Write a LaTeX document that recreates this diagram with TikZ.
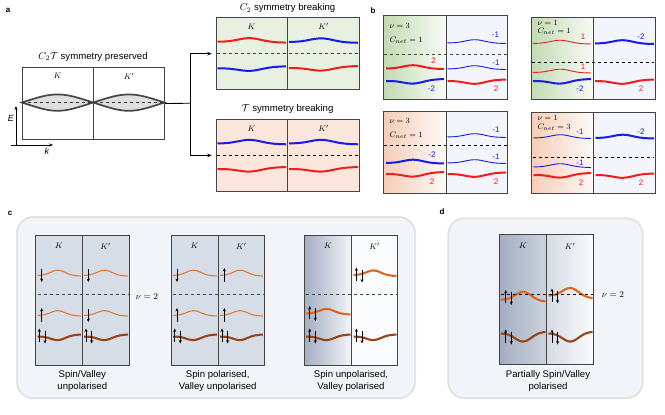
\documentclass[tikz,border=0pt]{standalone}
\usepackage{fontspec}
\setmainfont{Liberation Sans}
\usetikzlibrary{arrows.meta}
\definecolor{boxline}{HTML}{444444}
\definecolor{greenbg}{HTML}{E8F1E1}
\definecolor{pinkbg}{HTML}{FBE6DB}
\definecolor{gshade}{HTML}{C3DAB2}
\definecolor{pshade}{HTML}{F5CDB7}
\definecolor{lav}{HTML}{F3F5FC}
\definecolor{myred}{RGB}{240,28,30}
\definecolor{myblue}{RGB}{22,28,235}
\definecolor{cbg}{HTML}{F1F5FA}
\definecolor{cpan}{HTML}{D7DDE7}
\definecolor{darkpan}{HTML}{A3AEC1}
\definecolor{orthin}{RGB}{228,120,50}
\definecolor{orthick}{RGB}{218,102,32}
\definecolor{brownb}{RGB}{150,68,24}
\def\bc{0.47}\def\bw{0.24}
\newcommand\band[6]{\draw[#1] plot[domain=0:1,samples=41,smooth,variable=\x] ({#2+(#3-#2)*\x},{#4-(#5)*exp(-((\x-\bc)/\bw)*((\x-\bc)/\bw))+(#6)*\x});}
\newcommand\spinU[2]{\draw[spin] (#1,#2+6.5) -- (#1,#2-7);}
\newcommand\spinD[2]{\draw[spin] (#1,#2-6.5) -- (#1,#2+7);}
\newcommand\spinP[2]{\draw[spin] (#1-2.8,#2+5.5) -- (#1-2.8,#2-7.5); \draw[spin] (#1+2.8,#2-5.5) -- (#1+2.8,#2+7.5);}
\tikzset{
  spin/.style={-{Stealth[length=3.4pt,width=3pt]}, line width=0.75pt, black},
  panlab/.style={font=\bfseries\fontsize{8}{9}\selectfont},
  ttl/.style={font=\fontsize{9.6}{11}\selectfont},
  klab/.style={font=\fontsize{8}{9}\selectfont},
  small/.style={font=\fontsize{8}{9}\selectfont},
  captext/.style={font=\fontsize{9.6}{12}\selectfont, align=center},
  frame/.style={draw=boxline, line width=0.8pt},
  divl/.style={draw=boxline, line width=0.7pt},
  dsh/.style={dashed, line width=0.7pt, draw=boxline},
  thkR/.style={myred, line width=2pt},
  thkB/.style={myblue, line width=2pt},
  thnR/.style={myred, line width=0.9pt},
  thnB/.style={myblue, line width=0.9pt},
  thinO/.style={orthin, line width=1.1pt},
  thickO/.style={orthick, line width=2.1pt},
  thickB/.style={brownb, line width=2.1pt},
  conn/.style={line width=0.9pt, black},
}
\begin{document}
\begin{tikzpicture}[x=1pt,y=-1pt]
\useasboundingbox (0,0) rectangle (665,415);
% ================= a =================
\node[panlab] at (8,10) {a};
\node[frame, fill=white, minimum width=142.6pt, minimum height=71.7pt, inner sep=0pt, anchor=north west] (boxA) at (21.7,67.3) {};
\node[ttl] at (93,57) {$C_2\mathcal{T}$ symmetry preserved};
\draw[divl] (93.3,67.3) -- (93.3,139);
\node[klab] at (57.5,76) {$K$};
\node[klab] at (129,76) {$K'$};
\foreach \o in {0,71.3}{
  \filldraw[fill=gray!25, draw=gray!55!black, line width=1.7pt]
   (22+\o,102.5) .. controls (40+\o,96.5) and (48+\o,94.5) .. (57.5+\o,94.5)
   .. controls (67+\o,94.5) and (75+\o,96.5) .. (93+\o,102.5)
   .. controls (75+\o,108.5) and (67+\o,110.8) .. (57.5+\o,110.8)
   .. controls (48+\o,110.8) and (40+\o,108.5) .. cycle;
}
\draw[dashed, gray!40!black, line width=0.8pt] (22,102.6) -- (164,102.6);
\draw[-{Stealth[length=4pt,width=3pt]}, line width=0.7pt] (16,145) -- (16,106);
\draw[-{Stealth[length=4pt,width=3pt]}, line width=0.7pt] (10.7,145) -- (53,145);
\node[small, font=\itshape\fontsize{9}{10}\selectfont] at (11,118) {E};
\node[small, font=\itshape\fontsize{9}{10}\selectfont] at (47,151) {k};
% box B (C2 breaking)
\node[frame, fill=greenbg, minimum width=143.6pt, minimum height=72pt, inner sep=0pt, anchor=north west] (boxB) at (215.7,17.3) {};
\node[ttl] at (287.5,8.3) {$C_2$ symmetry breaking};
\draw[divl] (287.3,17.3) -- (287.3,89.3);
\node[klab] at (251.5,26.5) {$K$};
\node[klab] at (323.5,26.5) {$K'$};
\band{thkR}{217.5}{286}{41.8}{4}{0.8}
\band{thkB}{217.5}{286}{68.3}{-3.5}{-2}
\band{thkB}{289}{358}{42}{4}{0.8}
\band{thkR}{289}{358}{68}{-3.5}{-2}
\draw[dsh] (216.5,53.3) -- (358.5,53.3);
% box C (T breaking)
\node[frame, fill=pinkbg, minimum width=143.6pt, minimum height=71.4pt, inner sep=0pt, anchor=north west] (boxC) at (215.7,119.3) {};
\node[ttl] at (287.5,109.3) {$\mathcal{T}$ symmetry breaking};
\draw[divl] (287.3,119.3) -- (287.3,190.7);
\node[klab] at (251.5,128.5) {$K$};
\node[klab] at (323.5,128.5) {$K'$};
\band{thkB}{217.5}{286}{143.5}{4}{0.8}
\band{thkB}{289}{358}{143.5}{4}{0.8}
\band{thkR}{217.5}{286}{169}{-3.5}{-2}
\band{thkR}{289}{358}{169}{-3.5}{-2}
\draw[dashed, line width=0.7pt, black] (216.5,155) -- (358.5,155);
% connectors
\coordinate (br) at (190,103.2);
\draw[conn] (boxA.east) -- (br);
\draw[conn, -{Stealth[length=4.5pt,width=3.5pt]}, shorten >=4pt] (br) |- (boxB.west);
\draw[conn, -{Stealth[length=4.5pt,width=3.5pt]}, shorten >=4pt] (br) |- (boxC.west);
% ================= b =================
\node[panlab] at (373,11) {b};
% top-left
\shade[left color=gshade, right color=gshade!12] (383.3,15) rectangle (446.3,99);
\fill[lav] (446.3,15) rectangle (507.3,99);
\band{thkR}{386}{444}{68.5}{3.5}{0.5}
\band{thkB}{386}{444}{81}{-3.5}{-2}
\band{thnB}{447.5}{506}{43}{3.5}{0.5}
\band{thnB}{447.5}{506}{69}{3.5}{0.5}
\band{thkR}{447.5}{506}{81}{-3.5}{-1.5}
\draw[dsh] (384,54) -- (506.5,54);
\draw[divl] (446.3,15) -- (446.3,99);
\draw[frame] (383.3,15) rectangle (507.3,99);
\node[small, anchor=west] at (386,26) {$\nu = 3$};
\node[small, anchor=west] at (386,40) {$C_{net} = 1$};
\node[small, myred] at (433.5,61) {2};
\node[small, myblue] at (431.5,89) {-2};
\node[small, myblue] at (495.5,35) {-1};
\node[small, myblue] at (496,63) {-1};
\node[small, myred] at (496,89) {2};
% top-right
\shade[left color=gshade, right color=gshade!12] (531,17.3) rectangle (593.3,99);
\fill[lav] (593.3,17.3) rectangle (655,99);
\band{thnR}{533}{591}{43.5}{3.5}{0.5}
\band{thnR}{533}{591}{72.5}{3.5}{0.5}
\band{thkB}{533}{591}{81}{-3.5}{-2}
\band{thkB}{595}{654}{43.5}{3.5}{0.5}
\band{thkR}{595}{654}{81}{-3.5}{-1.5}
\draw[dashed, line width=0.7pt, black] (532,62.3) -- (654,62.3);
\draw[divl] (593.3,17.3) -- (593.3,99);
\draw[frame] (531,17.3) rectangle (655,99);
\node[small, anchor=west] at (534,23) {$\nu = 1$};
\node[small, anchor=west] at (534,31.5) {$C_{net} = 1$};
\node[small, myred] at (583,37) {1};
\node[small, myred] at (583,67) {1};
\node[small, myblue] at (580,89) {-2};
\node[small, myblue] at (641,37) {-2};
\node[small, myred] at (641,89) {2};
% bottom-left
\shade[left color=pshade, right color=pshade!10] (383.3,111.5) rectangle (446.5,193.3);
\fill[lav] (446.5,111.5) rectangle (507.3,193.3);
\band{thkB}{386}{444}{163}{3.5}{0.5}
\band{thkR}{386}{444}{174}{-3.5}{-2}
\band{thnB}{447.5}{506}{137}{3.5}{0.5}
\band{thnB}{447.5}{506}{163}{3.5}{0.5}
\band{thkR}{447.5}{506}{174}{-3.5}{-1.5}
\draw[dashed, line width=0.7pt, black] (384,145.3) -- (506.5,145.3);
\draw[divl] (446.5,111.5) -- (446.5,193.3);
\draw[frame] (383.3,111.5) rectangle (507.3,193.3);
\node[small, anchor=west] at (386,121) {$\nu = 3$};
\node[small, anchor=west] at (386,135) {$C_{net} = 1$};
\node[small, myblue] at (432,155) {-2};
\node[small, myred] at (432,182) {2};
\node[small, myblue] at (496,130) {-1};
\node[small, myblue] at (496,157) {-1};
\node[small, myred] at (496,182) {2};
% bottom-right
\shade[left color=pshade, right color=pshade!10] (531.5,112.3) rectangle (593.7,193.3);
\fill[lav] (593.7,112.3) rectangle (655,193.3);
\band{thnB}{533.5}{591}{138}{3.5}{0.5}
\band{thnB}{533.5}{591}{167}{3.5}{0.5}
\band{thkR}{533.5}{591}{175}{-3.5}{-2}
\band{thkB}{595.5}{654}{138}{3.5}{0.5}
\band{thkR}{595.5}{654}{175}{-3.5}{-1.5}
\draw[dashed, line width=0.7pt, black] (532.5,157.3) -- (654,157.3);
\draw[divl] (593.7,112.3) -- (593.7,193.3);
\draw[frame] (531.5,112.3) rectangle (655,193.3);
\node[small, anchor=west] at (534,118) {$\nu = 1$};
\node[small, anchor=west] at (534,127) {$C_{net} = 3$};
\node[small, myblue] at (580,132) {-1};
\node[small, myblue] at (580,163) {-1};
\node[small, myred] at (581,183) {2};
\node[small, myblue] at (641,132) {-2};
\node[small, myred] at (641,183) {2};
% ================= c =================
\node[panlab] at (10,213) {c};
\draw[rounded corners=16pt, line width=2pt, draw=gray!22, fill=cbg] (17,217) rectangle (415,398);
% c1
\fill[cpan] (35.7,235) rectangle (129,365);
\foreach \L/\R in {37.5/81, 84/128}{
  \band{thinO}{\L}{\R}{275.5}{5.5}{0.5}
  \band{thinO}{\L}{\R}{315.5}{5}{0.5}
  \band{thickB}{\L}{\R}{336.5}{-4.5}{-2}
}
\spinD{41.7}{275} \spinU{41.7}{315} \spinP{42.2}{336}
\spinD{88.3}{275} \spinD{88.3}{315} \spinP{88.8}{336}
\draw[dsh] (37.5,294.3) -- (128.5,294.3);
\draw[divl] (82.3,235) -- (82.3,365);
\draw[frame] (35.7,235) rectangle (129,365);
\node[klab] at (59,246) {$K$};
\node[klab] at (105.7,246) {$K'$};
\node[small, font=\fontsize{9}{10}\selectfont] at (147,297) {$\nu = 2$};
\node[captext] at (82.3,381) {Spin/Valley\\unpolarised};
% c2
\fill[cpan] (171,235) rectangle (264.3,365);
\foreach \L/\R in {173/217, 220/263}{
  \band{thinO}{\L}{\R}{275.5}{5.5}{0.5}
  \band{thinO}{\L}{\R}{315.5}{5}{0.5}
  \band{thickB}{\L}{\R}{336.5}{-4.5}{-2}
}
\spinD{177}{275} \spinU{177}{315} \spinP{177.5}{336}
\spinU{224.3}{275} \spinU{224.3}{315} \spinP{224.8}{336}
\draw[dsh] (172.5,294.3) -- (263.8,294.3);
\draw[divl] (218.3,235) -- (218.3,365);
\draw[frame] (171,235) rectangle (264.3,365);
\node[klab] at (194.6,246) {$K$};
\node[klab] at (241.3,246) {$K'$};
\node[captext] at (217.7,381) {Spin polarised,\\Valley unpolarised};
% c3
\shade[left color=darkpan, right color=cpan!30] (304.3,235) rectangle (351.7,365);
\fill[white!60!cbg] (351.7,235) rectangle (397.7,365);
\band{thickO}{353.5}{396.5}{275}{5}{1}
\band{thickO}{306}{350.5}{313.5}{5}{1}
\band{thickB}{306}{350.5}{336.5}{-4.5}{-2}
\band{thickB}{353.5}{396.5}{336.5}{-4.5}{-2}
\spinP{359.2}{275} \spinP{312.5}{313.5} \spinP{312.5}{336} \spinP{359.2}{336}
\draw[dsh] (305.5,294.3) -- (397,294.3);
\draw[divl] (351.7,235) -- (351.7,365);
\draw[frame] (304.3,235) rectangle (397.7,365);
\node[klab] at (328,246) {$K$};
\node[klab] at (374.7,246) {$K'$};
\node[captext] at (351,381) {Spin unpolarised,\\Valley polarised};
% ================= d =================
\node[panlab] at (442,212) {d};
\draw[rounded corners=16pt, line width=2pt, draw=gray!22, fill=cbg] (448.3,218.3) rectangle (642.7,398);
\shade[left color=darkpan, right color=darkpan!55!white] (499.3,234.3) rectangle (546.7,364.3);
\shade[left color=darkpan!45!white, right color=cbg!40!white] (546.7,234.3) rectangle (593.3,364.3);
\def\bc{0.5}\def\bw{0.26}
\band{thickO}{501}{545.5}{300}{9}{1.7}
\band{thickO}{548.5}{592.5}{295.7}{9}{2.6}
\band{thickB}{501}{545.5}{333.3}{-9}{-1.6}
\band{thickB}{548.5}{592.5}{333.3}{-9}{-1.6}
\spinP{508.5}{297.5} \spinP{554.8}{296} \spinP{508.5}{337} \spinP{554.8}{337}
\draw[dashed, line width=0.7pt, black] (501,294.3) -- (593,294.3);
\draw[divl] (546.7,234.3) -- (546.7,364.3);
\draw[frame] (499.3,234.3) rectangle (593.3,364.3);
\node[klab] at (523,246) {$K$};
\node[klab] at (570,246) {$K'$};
\node[small, font=\fontsize{9}{10}\selectfont] at (613,295) {$\nu = 2$};
\node[captext] at (548,381) {Partially Spin/Valley\\polarised};
\end{tikzpicture}
\end{document}
